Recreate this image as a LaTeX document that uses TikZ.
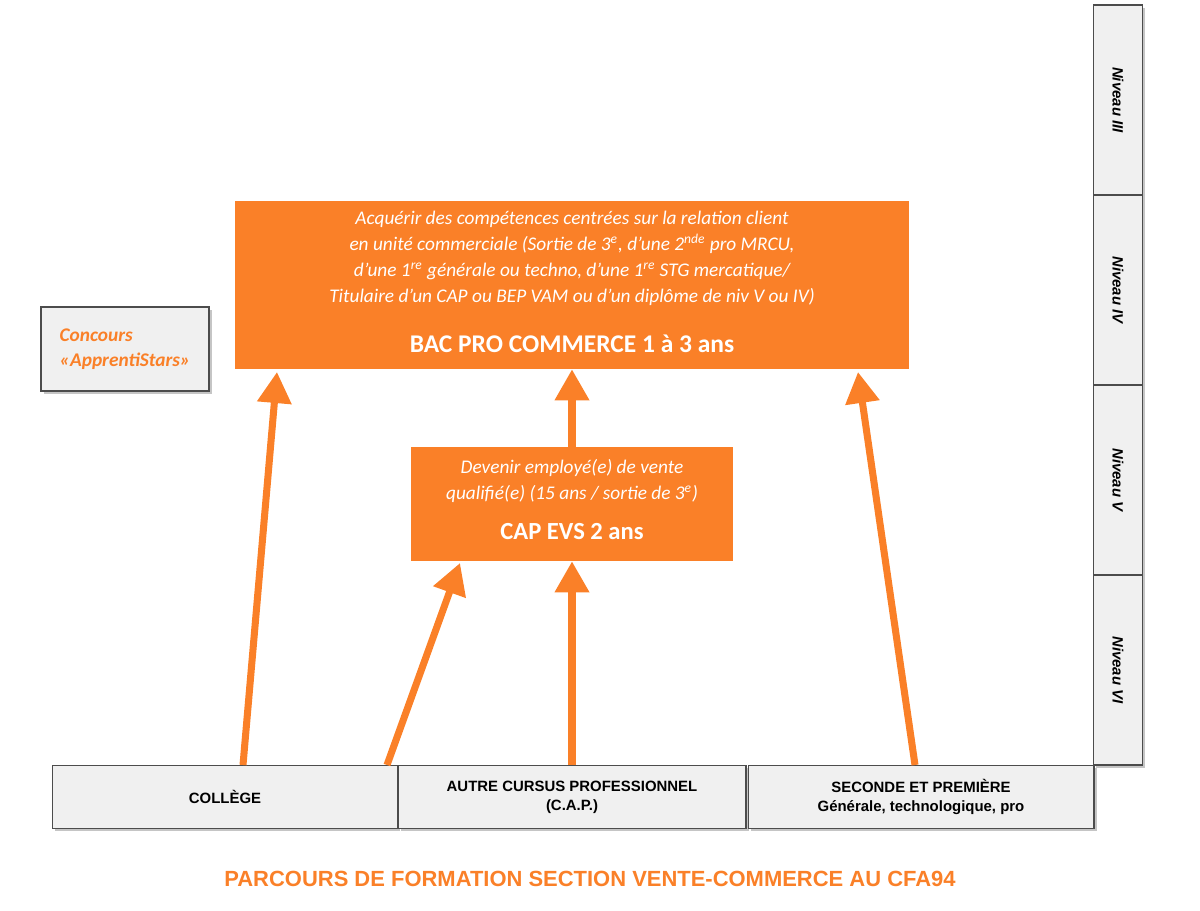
\documentclass[tikz,border=0pt]{standalone}
\usepackage{fontspec}
\setmainfont{Carlito}
\newfontfamily\arialfont{Liberation Sans}
\usetikzlibrary{arrows.meta,shadows}
\definecolor{cfaorange}{RGB}{250,128,40}
\definecolor{boxgray}{RGB}{240,240,240}
\begin{document}
\begin{tikzpicture}[x=0.02cm,y=-0.02cm]
	\tikzset{orangebox/.style={fill=cfaorange,text=white,align=center,inner sep=0pt},
		graybox/.style={draw=black!70,fill=boxgray,line width=0.6pt,align=center,inner sep=0pt,
			drop shadow={shadow xshift=1.5pt,shadow yshift=-1.5pt,fill=black!45}},
		upline/.style={draw=cfaorange,line width=4pt,-{Triangle[length=0.62cm,width=0.66cm]}}}
	\useasboundingbox (0,0) rectangle (1200,911);
	% niveaux
	\begin{scope}[every node/.style={graybox,minimum width=0.98cm,minimum height=3.8cm}]
		\node (N3) at (1118,100) {};
		\node (N4) at (1118,290) {};
		\node (N5) at (1118,480) {};
		\node (N6) at (1118,670) {};
	\end{scope}
	\foreach \n/\t in {N3/III,N4/IV,N5/V,N6/VI}
		\node[rotate=-90,font=\arialfont\bfseries\itshape\fontsize{8.5}{10}\selectfont] at (\n) {Niveau \t};
	% formations
	\node[orangebox,minimum width=13.48cm,minimum height=3.36cm] (BAC) at (572,285) {};
	\node[font=\itshape\fontsize{11}{14.8}\selectfont,text=white,align=center] at (572,258)
		{Acquérir des compétences centrées sur la relation client\\
		en unité commerciale (Sortie de 3\textsuperscript{e}, d’une 2\textsuperscript{nde} pro MRCU,\\
		d’une 1\textsuperscript{re} générale ou techno, d’une 1\textsuperscript{re} STG mercatique/\\
		Titulaire d’un CAP ou BEP VAM ou d’un diplôme de niv V ou IV)};
	\node[font=\bfseries\fontsize{14.5}{16}\selectfont,text=white] at (572,344) {BAC PRO COMMERCE 1 à 3 ans};
	\node[orangebox,minimum width=6.44cm,minimum height=2.28cm] (CAP) at (572,504) {};
	\node[font=\itshape\fontsize{11}{14.8}\selectfont,text=white,align=center] at (572,481)
		{Devenir employé(e) de vente\\ qualifié(e) (15 ans / sortie de 3\textsuperscript{e})};
	\node[font=\bfseries\fontsize{14}{16}\selectfont,text=white] at (572,532) {CAP EVS 2 ans};
	\node[graybox,minimum width=3.36cm,minimum height=1.68cm,text=cfaorange,
		font=\bfseries\itshape\fontsize{11}{14}\selectfont,align=left] (CONC) at (125,349)
		{Concours\\«ApprentiStars»};
	% parcours d'origine
	\begin{scope}[every node/.style={graybox,minimum height=1.26cm,font=\arialfont\bfseries\fontsize{8.5}{11}\selectfont}]
		\node[minimum width=6.9cm] (COL) at (225,797) {COLLÈGE};
		\node[minimum width=6.96cm] (AUT) at (572,797) {AUTRE CURSUS PROFESSIONNEL\\(C.A.P.)};
		\node[minimum width=6.92cm] (SEC) at (921,797) {SECONDE ET PREMIÈRE\\Générale, technologique, pro};
	\end{scope}
	\coordinate (c1) at (243,765); \coordinate (c2) at (387,765);
	\coordinate (s1) at (915,765);
	\draw[upline] (c1) -- (277,372);
	\draw[upline] (c2) -- (460,563);
	\draw[upline] (AUT.north) -- (CAP.south);
	\draw[upline] (CAP.north) -- (BAC.south);
	\draw[upline] (s1) -- (858,372);
	\node[text=cfaorange,font=\arialfont\bfseries\fontsize{12.5}{14}\selectfont] (TIT) at (590,879)
		{PARCOURS DE FORMATION SECTION VENTE-COMMERCE AU CFA94};
\end{tikzpicture}
\end{document}
